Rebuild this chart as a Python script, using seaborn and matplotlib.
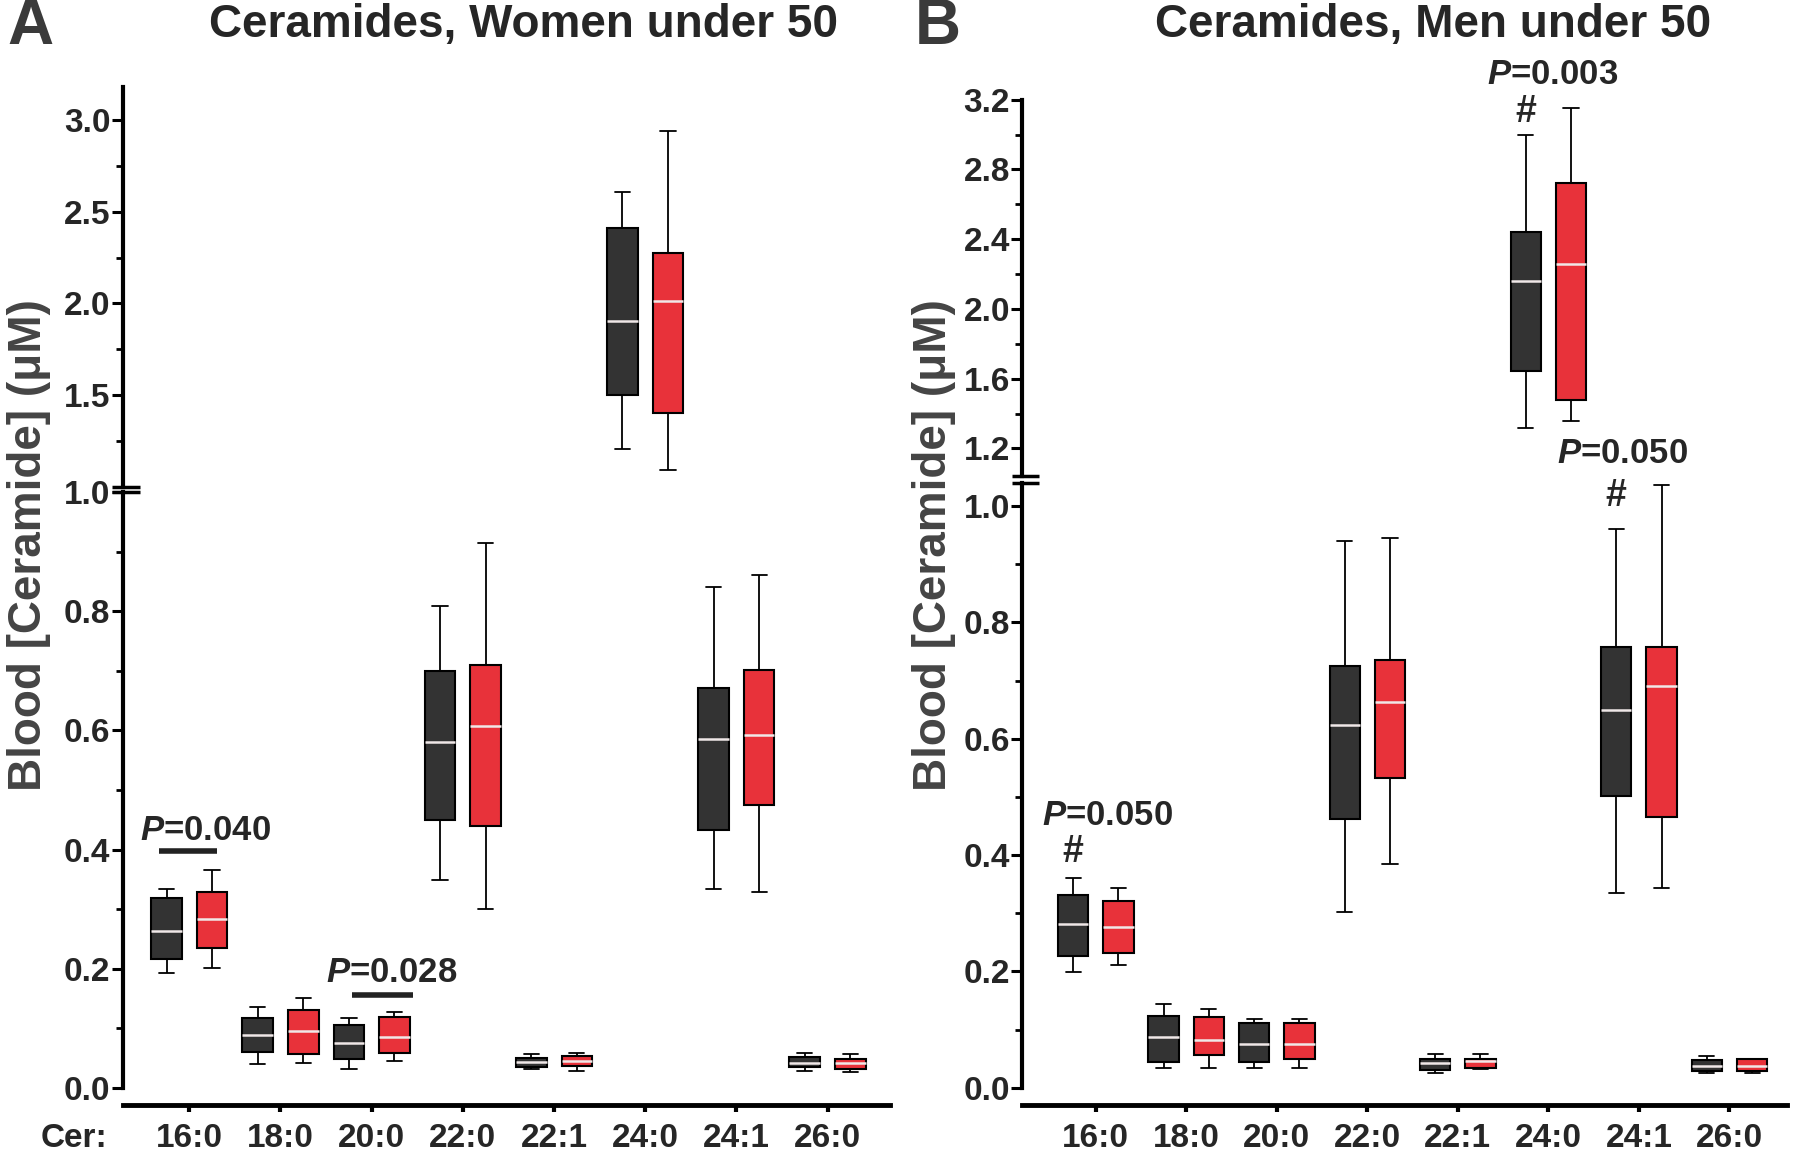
import numpy as np
import pandas as pd
import matplotlib
matplotlib.use("Agg")
import matplotlib.pyplot as plt
from matplotlib import font_manager
from matplotlib.ticker import FixedLocator, FormatStrFormatter
import seaborn as sns

# ---------------- data (five-number summaries: min, Q1, median, Q3, max) ----------------
categories = ["16:0", "18:0", "20:0", "22:0", "22:1", "24:0", "24:1", "26:0"]
groups = ["Group 1", "Group 2"]

women_group1 = [
    [0.192, 0.217, 0.263, 0.318, 0.333],
    [0.040, 0.060, 0.088, 0.117, 0.135],
    [0.032, 0.048, 0.075, 0.106, 0.117],
    [0.349, 0.450, 0.580, 0.699, 0.808],
    [0.032, 0.035, 0.043, 0.050, 0.056],
    [1.207, 1.498, 1.906, 2.413, 2.606],
    [0.334, 0.433, 0.585, 0.672, 0.840],
    [0.029, 0.035, 0.042, 0.052, 0.059],
]
women_group2 = [
    [0.201, 0.234, 0.284, 0.328, 0.366],
    [0.042, 0.056, 0.096, 0.130, 0.151],
    [0.045, 0.058, 0.085, 0.119, 0.127],
    [0.301, 0.439, 0.607, 0.710, 0.914],
    [0.029, 0.037, 0.045, 0.054, 0.059],
    [1.090, 1.403, 2.013, 2.277, 2.940],
    [0.329, 0.474, 0.593, 0.701, 0.861],
    [0.027, 0.032, 0.041, 0.049, 0.056],
]
men_group1 = [
    [0.199, 0.227, 0.281, 0.331, 0.360],
    [0.034, 0.045, 0.087, 0.124, 0.144],
    [0.034, 0.045, 0.075, 0.112, 0.119],
    [0.302, 0.462, 0.623, 0.726, 0.940],
    [0.025, 0.030, 0.042, 0.050, 0.059],
    [1.320, 1.645, 2.160, 2.440, 2.995],
    [0.335, 0.502, 0.649, 0.758, 0.960],
    [0.025, 0.029, 0.038, 0.047, 0.054],
]
men_group2 = [
    [0.211, 0.231, 0.277, 0.322, 0.343],
    [0.034, 0.057, 0.082, 0.122, 0.136],
    [0.034, 0.050, 0.075, 0.112, 0.119],
    [0.385, 0.532, 0.664, 0.735, 0.945],
    [0.033, 0.034, 0.046, 0.050, 0.059],
    [1.358, 1.475, 2.260, 2.720, 3.154],
    [0.343, 0.465, 0.690, 0.758, 1.037],
    [0.025, 0.029, 0.038, 0.050, 0.050],
]

titles = ["Ceramides, Women under 50", "Ceramides, Men under 50"]
panel_letters = ["A", "B"]

# ---------------- style ----------------
sns.set_theme(style="white")
plt.rcParams["font.family"] = ["Liberation Sans", "DejaVu Sans"]
plt.rcParams["font.weight"] = "bold"
plt.rcParams["axes.labelweight"] = "bold"
plt.rcParams["mathtext.fontset"] = "custom"
plt.rcParams["mathtext.it"] = "Liberation Sans:italic:bold"
plt.rcParams["mathtext.rm"] = "Liberation Sans:bold"

installed = {f.name for f in font_manager.fontManager.ttflist}
if "Liberation Sans Narrow" in installed:
    TICK_FAMILY = ["Liberation Sans Narrow", "Liberation Sans"]
    TICK_FS = 28
else:
    TICK_FAMILY = ["Liberation Sans", "DejaVu Sans"]
    TICK_FS = 24

DARK = "#333333"
RED = "#E8323A"
GRAY_TXT = "#444444"


def make_df(g1, g2):
    rows = []
    for cat, s1, s2 in zip(categories, g1, g2):
        for v in s1:
            rows.append((cat, groups[0], v))
        for v in s2:
            rows.append((cat, groups[1], v))
    return pd.DataFrame(rows, columns=["cer", "group", "value"])


def draw_boxes(ax, df):
    sns.boxplot(
        data=df, x="cer", y="value", hue="group",
        order=categories, hue_order=groups,
        palette=[DARK, RED], saturation=1,
        width=1.0, gap=0.33, whis=(0, 100), showfliers=False,
        linecolor="black", linewidth=1.5,
        medianprops=dict(color="#f0e8e8", linewidth=1.8),
        whiskerprops=dict(linewidth=1.3),
        capprops=dict(linewidth=1.3),
        legend=False, ax=ax,
    )
    ax.set_xlabel("")
    ax.set_ylabel("")


def style_ticklabels(ax):
    for lbl in ax.get_xticklabels() + ax.get_yticklabels():
        lbl.set_family(TICK_FAMILY)
        lbl.set_fontsize(TICK_FS)
        lbl.set_fontweight("bold")


fig = plt.figure(figsize=(18, 11.59), dpi=100)

layouts = [
    dict(low=[0.0682, 0.0614, 0.426, 0.514], up=[0.0682, 0.580, 0.426, 0.345],
         xlim=(-0.73, 7.68), low_ylim=(0, 1.0), up_ylim=(1.0, 3.18),
         low_major=[0, 0.2, 0.4, 0.6, 0.8, 1.0], low_minor=[0.1, 0.3, 0.5, 0.7, 0.9],
         up_major=[1.5, 2.0, 2.5, 3.0], up_minor=[1.25, 1.75, 2.25, 2.75],
         data=(women_group1, women_group2)),
    dict(low=[0.568, 0.0614, 0.425, 0.522], up=[0.568, 0.589, 0.425, 0.325],
         xlim=(-0.81, 7.64), low_ylim=(0, 1.04), up_ylim=(1.04, 3.2),
         low_major=[0, 0.2, 0.4, 0.6, 0.8, 1.0], low_minor=[0.1, 0.3, 0.5, 0.7, 0.9],
         up_major=[1.2, 1.6, 2.0, 2.4, 2.8, 3.2], up_minor=[1.4, 1.8, 2.2, 2.6, 3.0],
         data=(men_group1, men_group2)),
]

axes = []
for lay in layouts:
    df = make_df(*lay["data"])
    ax_low = fig.add_axes(lay["low"])
    ax_up = fig.add_axes(lay["up"])
    for ax in (ax_low, ax_up):
        draw_boxes(ax, df)
        ax.set_xlim(*lay["xlim"])
        ax.spines["top"].set_visible(False)
        ax.spines["right"].set_visible(False)
        ax.spines["left"].set_linewidth(3)
        ax.spines["left"].set_color("black")
        ax.yaxis.set_major_formatter(FormatStrFormatter("%.1f"))
        ax.tick_params(axis="y", which="major", direction="out", length=8, width=2.2,
                       color="black", pad=1, left=True)
        ax.tick_params(axis="y", which="minor", direction="out", length=5, width=2,
                       color="black", left=True)
        ax.set_facecolor("none")
    ax_low.set_ylim(*lay["low_ylim"])
    ax_low.yaxis.set_major_locator(FixedLocator(lay["low_major"]))
    ax_low.yaxis.set_minor_locator(FixedLocator(lay["low_minor"]))
    ax_up.set_ylim(*lay["up_ylim"])
    ax_up.yaxis.set_major_locator(FixedLocator(lay["up_major"]))
    ax_up.yaxis.set_minor_locator(FixedLocator(lay["up_minor"]))

    ax_up.spines["bottom"].set_visible(False)
    ax_up.tick_params(axis="x", bottom=False, labelbottom=False)

    ax_low.spines["bottom"].set_position(("outward", 12))
    ax_low.spines["bottom"].set_linewidth(3.5)
    ax_low.spines["bottom"].set_color("black")
    ax_low.tick_params(axis="x", direction="out", length=5, width=3, color="black",
                       pad=8, bottom=True)
    for ax in (ax_low, ax_up):
        style_ticklabels(ax)

    # axis-break marks
    for ax, yy in ((ax_low, 1.0), (ax_up, 0.0)):
        ax.plot([-0.014, 0.022], [yy, yy], transform=ax.transAxes, color="black",
                lw=2.5, clip_on=False, solid_capstyle="butt")
    axes.append((ax_low, ax_up))

# ---------------- texts ----------------
fig.text(0.291, 0.978, titles[0], ha="center", va="center", fontsize=33, fontweight="bold")
fig.text(0.796, 0.978, titles[1], ha="center", va="center", fontsize=33, fontweight="bold")
fig.text(0.004, 0.977, panel_letters[0], ha="left", va="center", fontsize=46,
         fontweight="bold", color="#3a3a3a")
fig.text(0.508, 0.977, panel_letters[1], ha="left", va="center", fontsize=46,
         fontweight="bold", color="#3a3a3a")
for xpos in (0.016, 0.519):
    fig.text(xpos, 0.53, "Blood [Ceramide] (μM)", rotation=90, ha="center", va="center",
             fontsize=33, fontweight="bold", color=GRAY_TXT)

# "Cer:" aligned with the category tick labels
lbl0 = axes[0][0].get_xticklabels()[0]
fig.canvas.draw()
bb = lbl0.get_window_extent()
fig.text(0.041, bb.y0 / fig.bbox.height, "Cer:", ha="center", va="bottom",
         fontsize=TICK_FS, fontweight="bold", family=TICK_FAMILY)

ptxt = dict(ha="center", va="center", fontsize=25, fontweight="bold", clip_on=False)
hashtxt = dict(ha="center", va="center", fontsize=27, fontweight="bold", clip_on=False)

aA_low, aA_up = axes[0]
aA_low.text(0.18, 0.432, r"$\mathit{P}$=0.040", **ptxt)
aA_low.plot([-0.33, 0.30], [0.397, 0.397], color="#222222", lw=4, solid_capstyle="butt")
aA_low.text(2.22, 0.194, r"$\mathit{P}$=0.028", **ptxt)
aA_low.plot([1.78, 2.45], [0.155, 0.155], color="#222222", lw=4, solid_capstyle="butt")

aB_low, aB_up = axes[1]
aB_low.text(0.13, 0.469, r"$\mathit{P}$=0.050", **ptxt)
aB_low.text(-0.25, 0.405, "#", **hashtxt)
aB_up.text(5.05, 3.345, r"$\mathit{P}$=0.003", **ptxt)
aB_up.text(4.75, 3.13, "#", **hashtxt)
aB_low.text(5.82, 1.09, r"$\mathit{P}$=0.050", **ptxt)
aB_low.text(5.75, 1.018, "#", **hashtxt)

fig.savefig("out.png", dpi=100)
